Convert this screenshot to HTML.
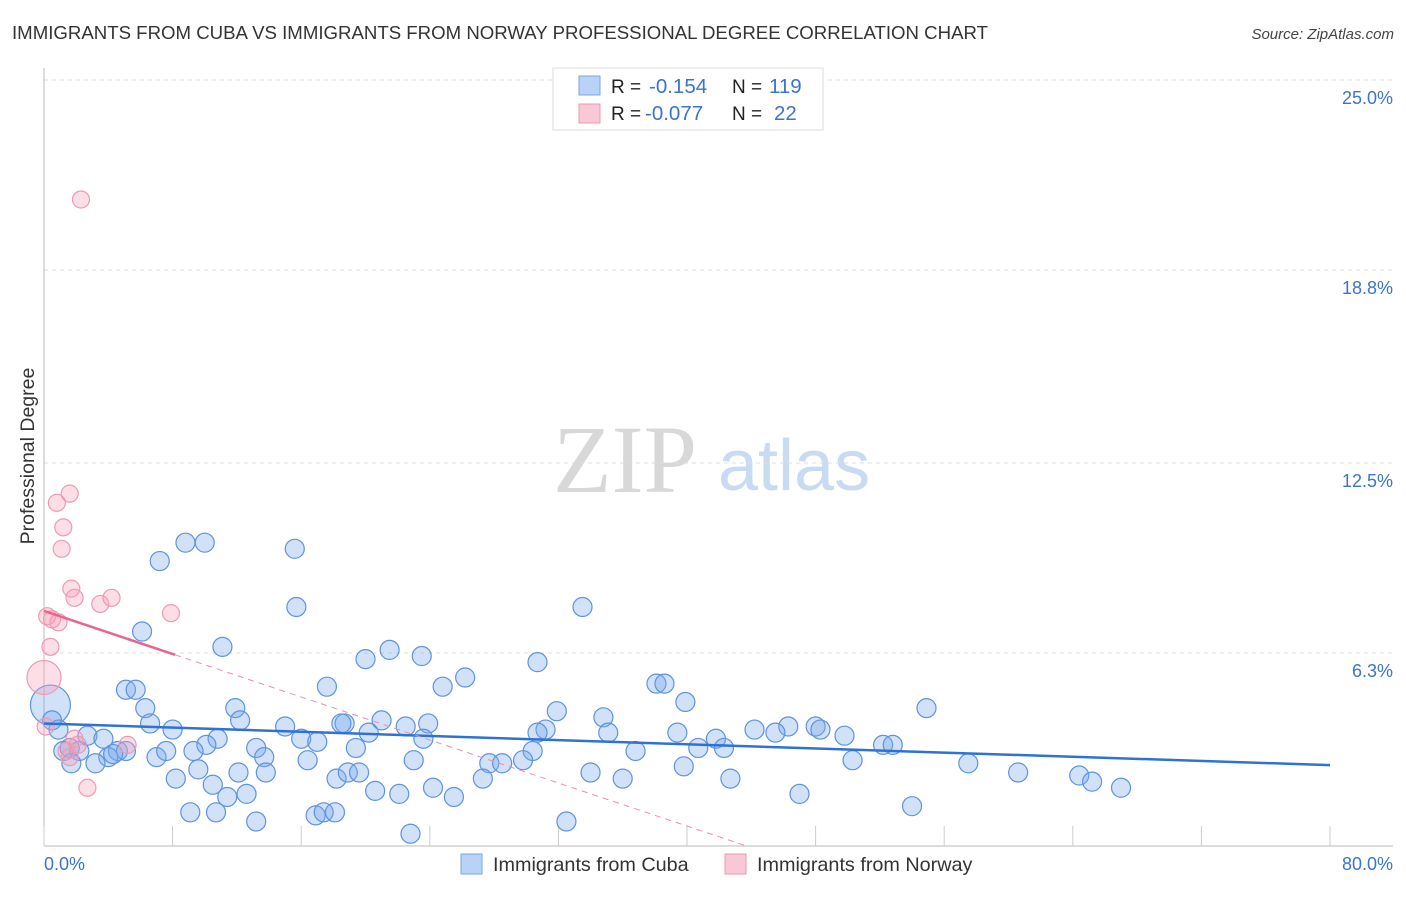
<!DOCTYPE html>
<html><head><meta charset="utf-8"><style>
body{margin:0;background:#fff;font-family:"Liberation Sans",sans-serif;}
svg text{font-family:"Liberation Sans",sans-serif;}
</style></head><body>
<svg id="chart" width="1406" height="892" xmlns="http://www.w3.org/2000/svg">
<text x="12" y="39" font-size="18.6" fill="#333" textLength="976" lengthAdjust="spacingAndGlyphs">IMMIGRANTS FROM CUBA VS IMMIGRANTS FROM NORWAY PROFESSIONAL DEGREE CORRELATION CHART</text>
<text x="1394" y="39" font-size="15" fill="#444" font-style="italic" text-anchor="end">Source: ZipAtlas.com</text>
<text x="553" y="492" font-size="96" fill="#d8d8d8" font-family="Liberation Serif" style="font-family:'Liberation Serif',serif">ZIP</text>
<text x="718" y="490" font-size="72" fill="#c9dbf3">atlas</text>
<text transform="translate(34,456) rotate(-90)" font-size="19.5" fill="#333" text-anchor="middle">Professional Degree</text>
<g id="grid"></g><g id="pts"></g><g id="lines"></g>
<g>
<rect x="553" y="68" width="270" height="62" fill="#fff" stroke="#ddd"/>
<rect x="579" y="76" width="21" height="19" fill="#b8d3f5" stroke="#7aa6e6"/>
<rect x="579" y="104" width="21" height="19" fill="#f9c8d6" stroke="#eb98b0"/>
<text x="611" y="93" font-size="19" fill="#222">R =</text><text x="649" y="93" font-size="20.5" fill="#3a74d0">-0.154</text>
<text x="732" y="93" font-size="19" fill="#222">N =</text><text x="769" y="93" font-size="20.5" fill="#3a74d0">119</text>
<text x="611" y="120" font-size="19" fill="#222">R =</text><text x="645" y="120" font-size="20.5" fill="#3a74d0">-0.077</text>
<text x="732" y="120" font-size="19" fill="#222">N =</text><text x="774" y="120" font-size="20.5" fill="#3a74d0">22</text>
</g>
<g>
<rect x="461" y="854" width="21" height="20" fill="#b8d3f5" stroke="#7aa6e6"/>
<text x="493" y="871" font-size="19.8" fill="#333">Immigrants from Cuba</text>
<rect x="725" y="854" width="21" height="20" fill="#f9c8d6" stroke="#eb98b0"/>
<text x="757" y="871" font-size="19.8" fill="#333">Immigrants from Norway</text>
</g>
</svg>
<script>
const blueX=[7.2,8.8,10.0,15.6,15.7,6.1,11.1,33.5,20.0,21.5,23.5,30.7,24.8,26.2,17.6,5.1,5.7,38.1,38.6,39.9,54.9,0.4,6.3,11.9,12.2,6.6,0.5,18.7,18.5,21.0,22.5,23.9,31.9,34.8,31.2,30.7,35.1,39.4,44.2,46.3,48.0,48.3,45.5,49.8,0.9,2.7,3.7,8.0,15.0,10.8,10.1,16.0,17.0,23.6,20.2,1.6,1.2,2.2,4.6,5.1,4.0,4.3,7.0,7.6,9.3,13.2,13.7,19.4,30.4,36.8,40.7,41.8,42.3,52.2,52.8,3.2,1.7,9.6,12.1,13.8,16.4,23.0,27.7,28.5,29.8,34.0,39.8,50.3,57.5,60.6,64.4,65.2,67.0,8.2,10.5,18.2,18.9,19.6,27.3,36.0,42.7,22.1,24.2,20.6,25.5,11.4,12.6,47.0,54.0,9.1,10.7,13.2,16.9,17.4,18.1,22.8,32.5];
const blueY=[9.3,9.9,9.9,9.7,7.8,7.0,6.5,7.8,6.1,6.4,6.2,6.0,5.2,5.5,5.2,5.1,5.1,5.3,5.3,4.7,4.5,4.6,4.5,4.5,4.1,4.0,4.1,4.0,4.0,4.1,3.9,4.0,4.4,4.2,3.8,3.7,3.7,3.7,3.8,3.9,3.9,3.8,3.7,3.6,3.8,3.6,3.5,3.8,3.9,3.5,3.3,3.5,3.4,3.5,3.7,3.2,3.1,3.1,3.1,3.1,2.9,3.0,2.9,3.1,3.1,3.2,2.9,3.2,3.1,3.1,3.2,3.5,3.2,3.3,3.3,2.7,2.7,2.5,2.4,2.4,2.8,2.8,2.7,2.7,2.8,2.4,2.6,2.8,2.7,2.4,2.3,2.1,1.9,2.2,2.0,2.2,2.4,2.4,2.2,2.2,2.2,1.7,1.9,1.8,1.6,1.6,1.7,1.7,1.3,1.1,1.1,0.8,1.0,1.1,1.1,0.4,0.8];
const pinkX=[2.3,1.6,0.8,1.2,1.1,1.7,1.9,3.5,4.2,7.9,0.2,0.5,0.9,0.4,0.0,1.9,1.4,5.2,1.6,2.7,0.1,2.1];
const pinkY=[21.1,11.5,11.2,10.4,9.7,8.4,8.1,7.9,8.1,7.6,7.5,7.4,7.3,6.5,5.5,3.5,3.1,3.3,2.9,1.9,3.9,3.3];
const yTicks=[25.0,18.8,12.5,6.3];
const yTickLabels=["25.0%","18.8%","12.5%","6.3%"];
const xTicks=[0,8,16,24,32,40,48,56,64,72,80];
const blueTrend=[4.0,2.64];
const pinkTrend=[7.67,6.24];
const pinkSolidEnd=8.15;

const NS="http://www.w3.org/2000/svg";
const X=v=>44+v/80*1286, Y=v=>846-v/25*766;
function mk(tag,attrs,parent){const e=document.createElementNS(NS,tag);for(const k in attrs)e.setAttribute(k,attrs[k]);parent.appendChild(e);return e;}
const grid=document.getElementById('grid'),pts=document.getElementById('pts'),lines=document.getElementById('lines');
yTicks.forEach((t,i)=>{
 const g=mk('line',{x1:44,x2:1393,y1:Y(t),y2:Y(t),stroke:'#ddd','stroke-dasharray':'4,4'},grid);
 
 
 const tx=mk('text',{x:1393,y:Y(t)+24,'font-size':18,fill:'#3a74d0','text-anchor':'end'},grid);tx.textContent=yTickLabels[i];
 
 
});
const ax=mk('line',{x1:44,x2:44,y1:68,y2:846,stroke:'#bbb'},grid);


const bx=mk('line',{x1:44,x2:1393,y1:846,y2:846,stroke:'#bbb'},grid);


xTicks.forEach(t=>{const l=mk('line',{x1:X(t),x2:X(t),y1:826,y2:846,stroke:'#ccc'},grid);
 
 });
const xl0=mk('text',{x:44,y:870,'font-size':18,fill:'#3a74d0'},grid);xl0.textContent=xTicks[0].toFixed(1)+'%';


const xl1=mk('text',{x:1393,y:870,'font-size':18,fill:'#3a74d0','text-anchor':'end'},grid);xl1.textContent=xTicks[xTicks.length-1].toFixed(1)+'%';


blueX.forEach((x,i)=>{const r=(i===21)?20:9.5;const c=mk('circle',{cx:X(x),cy:Y(blueY[i]),r:r,fill:'rgba(120,170,235,0.35)',stroke:'#5d93e0','stroke-width':1.2},pts);
 
 });
pinkX.forEach((x,i)=>{const r=(i===14)?17:8.5;const c=mk('circle',{cx:X(x),cy:Y(pinkY[i]),r:r,fill:'rgba(245,160,185,0.35)',stroke:'#ee9ab3','stroke-width':1.2},pts);
 
 });
const bl=mk('line',{x1:X(0),y1:Y(blueTrend[0]),x2:X(80),y2:Y(blueTrend[1]),stroke:'#2f72d6','stroke-width':2.5},lines);


const slope=(pinkTrend[1]-pinkTrend[0])/pinkSolidEnd;const zeroX=-pinkTrend[0]/slope;
const pl=mk('line',{x1:X(0),y1:Y(pinkTrend[0]),x2:X(pinkSolidEnd),y2:Y(pinkTrend[1]),stroke:'#e8668e','stroke-width':2.5},lines);


const pd=mk('line',{x1:X(pinkSolidEnd),y1:Y(pinkTrend[1]),x2:X(zeroX),y2:Y(0),stroke:'#eb8fab','stroke-width':1,'stroke-dasharray':'6,5'},lines);


</script>
</body></html>
